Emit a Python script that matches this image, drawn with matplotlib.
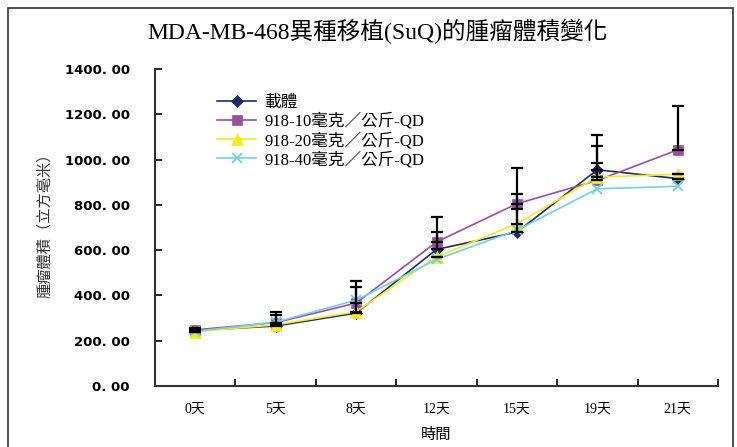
import matplotlib
matplotlib.use("Agg")
import matplotlib.pyplot as plt
from matplotlib.patches import Rectangle
from matplotlib.ticker import FuncFormatter

# 資料
days = ["0天", "5天", "8天", "12天", "15天", "19天", "21天"]
names = ["載體", "918-10毫克／公斤-QD", "918-20毫克／公斤-QD", "918-40毫克／公斤-QD"]
vehicle = [245, 265, 322, 603, 680, 955, 916]
dose10 = [248, 280, 366, 636, 805, 908, 1043]
dose20 = [240, 270, 328, 570, 717, 923, 935]
dose40 = [242, 282, 379, 559, 688, 871, 882]
err_vehicle = [8, 48, 114, 76, 100, 154, 0]
err_dose10 = [6, 47, 98, 109, 159, 77, 192]
err_dose20 = [0, 0, 0, 0, 132, 139, 0]
err_dose40 = [0, 0, 0, 0, 0, 0, 0]

serif = ["Liberation Serif", "Noto Sans CJK TC"]

fig = plt.figure(figsize=(7.37, 4.47), dpi=100)
fig.patches.append(Rectangle((8 / 737, -0.1), 725 / 737, 1.1 - 8 / 447, transform=fig.transFigure,
                             fill=False, edgecolor="#333333", linewidth=1.2))
ax = fig.add_axes([155 / 737, 1 - 386 / 447, 563 / 737, 317 / 447])

x = list(range(len(days)))
series = [
    (vehicle, err_vehicle, "#1f2a6e", "D", 6),
    (dose10, err_dose10, "#9b4f9f", "s", 7),
    (dose20, err_dose20, "#f2ee1c", "^", 8),
    (dose40, err_dose40, "#6fd3e3", "x", 7),
]
for (vals, err, col, mk, ms), name in zip(series, names):
    ax.plot(x, vals, color=col, marker=mk, markersize=ms, linewidth=1.2,
            markeredgewidth=1.3 if mk == "x" else 0.5, label=name)
for vals, err, col, mk, ms in series:
    if any(err):
        ax.errorbar(x, vals, yerr=[[0] * len(err), err], fmt="none", ecolor="black",
                    elinewidth=1.6, capsize=4.5, capthick=1.6)

ax.set_xlim(-0.5, 6.5)
ax.set_ylim(0, 1400)
ax.set_yticks(range(0, 1401, 200))
ax.yaxis.set_major_formatter(FuncFormatter(lambda v, p: "%d. 00" % v))
for t in ax.get_yticklabels():
    t.set_fontfamily(["DejaVu Sans"])
    t.set_fontweight("bold")
    t.set_fontsize(9.5)
ax.tick_params(axis="y", direction="in", length=5, width=1.2, pad=18)

ax.set_xticks([i + 0.5 for i in range(7)])
ax.set_xticklabels([])
ax.set_xticks(x, minor=True)
ax.set_xticklabels(days, minor=True, fontfamily=serif, fontsize=10)
ax.tick_params(axis="x", which="major", direction="in", length=5, width=1.2)
ax.tick_params(axis="x", which="minor", length=0, pad=12)

for s in ["top", "right"]:
    ax.spines[s].set_visible(False)
for s in ["left", "bottom"]:
    ax.spines[s].set_linewidth(1.5)
    ax.spines[s].set_color("#333333")

ax.set_xlabel("時間", fontfamily=serif, fontsize=11, labelpad=9)
fig.text(45 / 737, 1 - 222 / 447, "腫瘤體積（立方毫米）", rotation=90, ha="center", va="center",
         fontfamily=serif, fontsize=11, color="#333333")
fig.text(378 / 737, 1 - 31 / 447, "MDA-MB-468異種移植(SuQ)的腫瘤體積變化", ha="center", va="center",
         fontfamily=serif, fontsize=17)

ax.legend(loc="upper left", bbox_to_anchor=(0.099, 0.94), frameon=False,
          prop={"family": serif, "size": 12}, handlelength=2.3, labelspacing=0.15,
          handletextpad=0.5, borderaxespad=0)

fig.savefig("out.png", dpi=100)
